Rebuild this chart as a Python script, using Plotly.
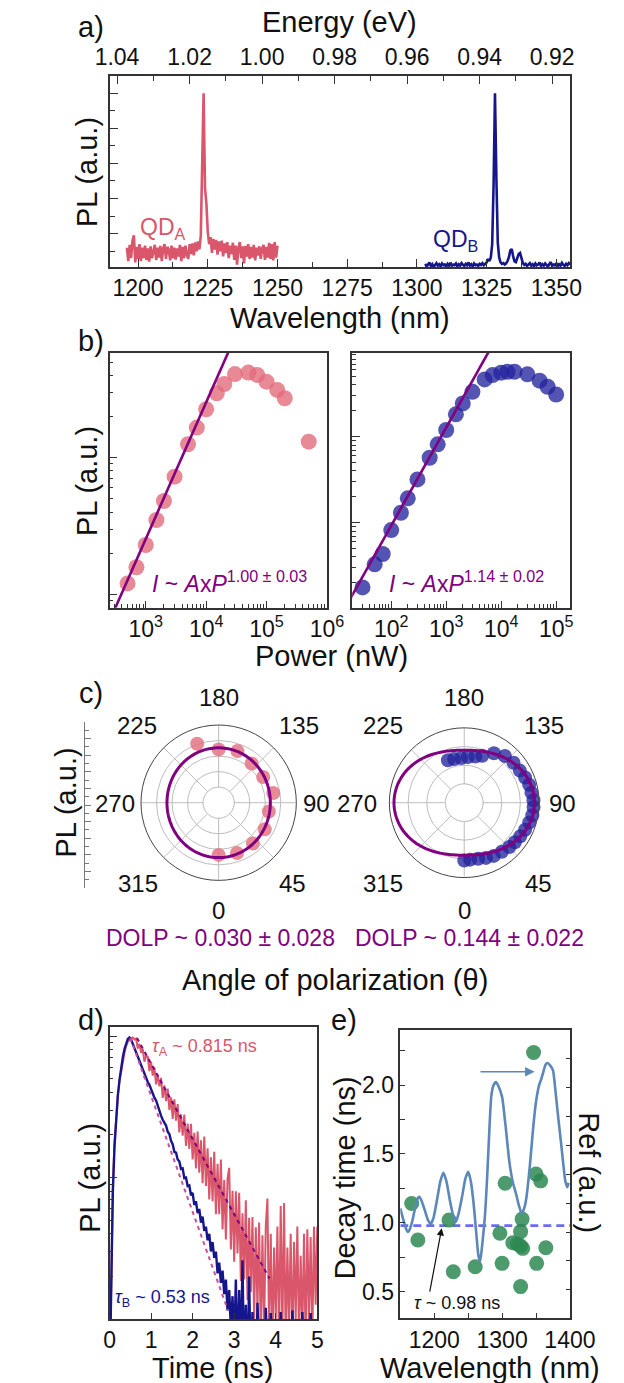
import numpy as np
import plotly.graph_objects as go

W, H = 624, 1383
FONT = "Liberation Sans, Arial, Helvetica, sans-serif"


def px(x):
    return x / W


def py(y):
    return 1 - y / H


RED = "#d9566b"
RED_DOT = "rgba(226,108,124,0.80)"
NAVY = "#16168c"
NAVY_DOT = "rgba(36,36,158,0.78)"
PURPLE = "#800080"
GREEN_DOT = "rgba(46,136,82,0.85)"
STEEL = "#5b87b9"
DASHBLUE = "#6b6bf2"
AXC = "#333333"
GRID = "#bdbdbd"

# ---------------- (a) PL spectra ----------------
HC = 1239.84  # eV*nm
wl_lim = [1190.0, 1355.0]
spec_a_start, spec_a_step = 1196.0, 0.5
spec_a = [0.60, 0.22, 0.68, 0.30, 0.80, 0.95, 0.18, 0.62, 0.28, 0.70, 0.22, 0.60,
          0.30, 0.66, 0.25, 0.58, 0.20, 0.64, 0.30, 0.55, 0.68, 0.25, 0.60, 0.32,
          0.65, 0.22, 0.58, 0.70, 0.28, 0.62, 0.55, 0.24, 0.66, 0.30, 0.60, 0.26,
          0.58, 0.35, 0.68, 0.22, 0.62, 0.30, 0.66, 0.40, 0.28, 0.70, 0.42, 0.72,
          0.38, 0.75, 0.50, 0.78, 0.55, 0.95, 2.60, 5.00, 2.30, 1.86, 1.05, 0.70,
          0.90, 0.45, 0.85, 0.55, 0.82, 0.40, 0.78, 0.50, 0.80, 0.35, 0.72, 0.45,
          0.76, 0.30, 0.66, 0.42, 0.74, 0.25, 0.66, 0.12, 0.60, 0.76, 0.30, 0.64,
          0.15, 0.65, 0.35, 0.70, 0.28, 0.62, 0.32, 0.68, 0.24, 0.60, 0.38, 0.64,
          0.28, 0.58, 0.68, 0.25, 0.62, 0.32, 0.74, 0.28, 0.70, 0.24, 0.76, 0.32,
          0.66]
spec_b_start, spec_b_step = 1303.0, 0.5
spec_b = [0.14, 0.06, 0.12, 0.18, 0.08, 0.13, 0.05, 0.11, 0.16, 0.09, 0.13, 0.07,
          0.15, 0.10, 0.12, 0.06, 0.14, 0.09, 0.17, 0.08, 0.12, 0.10, 0.15, 0.07,
          0.13, 0.09, 0.16, 0.11, 0.08, 0.14, 0.10, 0.18, 0.09, 0.13, 0.07, 0.15,
          0.10, 0.12, 0.08, 0.14, 0.11, 0.16, 0.10, 0.14, 0.18, 0.28, 0.22, 0.32,
          0.70, 2.40, 5.00, 2.60, 0.75, 0.32, 0.18, 0.14, 0.16, 0.12, 0.15, 0.22,
          0.33, 0.52, 0.56, 0.36, 0.21, 0.19, 0.28, 0.42, 0.45, 0.27, 0.16, 0.11,
          0.14, 0.08, 0.12, 0.16, 0.09, 0.13, 0.07, 0.15, 0.10, 0.12, 0.18, 0.08,
          0.13, 0.09, 0.15, 0.11, 0.06, 0.14, 0.19, 0.08, 0.12, 0.10, 0.16, 0.07,
          0.13, 0.09, 0.17, 0.11, 0.08, 0.14, 0.10, 0.16, 0.12]
wl_ticks = [1200, 1225, 1250, 1275, 1300, 1325, 1350]
ev_ticks = [1.04, 1.02, 1.00, 0.98, 0.96, 0.94, 0.92]

# ---------------- (b) power dependence ----------------
power_a = [500, 700, 1000, 1500, 2000, 3000, 5000, 7000, 10000, 15000, 20000,
           30000, 50000, 70000, 100000, 150000, 200000, 500000]
pl_a = [1202, 1578, 2296, 3499, 4820, 7260, 12530, 16600, 22600, 29600, 34600,
        40900, 41900, 40300, 36000, 31300, 27200, 13100]
power_b = [30, 50, 70, 100, 150, 200, 300, 500, 700, 1000, 1500, 2000, 3000,
           5000, 7000, 10000, 13000, 17500, 30000, 50000, 70000, 100000]
pl_b = [177, 328, 433, 822, 1306, 1920, 3190, 5700, 8150, 11970, 18200, 24400,
        33300, 46400, 52100, 55500, 57000, 57000, 53100, 44800, 38100, 31000]
fit_a_amp, fit_a_exp = 2.54, 1.00
fit_b_amp, fit_b_exp = 4.86, 1.14

# ---------------- (c) polarization ----------------
theta_a = [0, 20, 40, 60, 80, 100, 120, 140, 160, 180, 200]
r_a = [3.36, 3.45, 3.43, 3.43, 3.28, 3.57, 3.31, 3.30, 3.54, 3.43, 4.04]
theta_b = [0, 6, 14, 21.5, 29, 37.5, 45.5, 52, 59, 66, 73, 79.5, 86.5, 92, 98.5,
           105.5, 112.5, 120, 129, 139, 149, 159, 166.5, 175.5, 184, 193, 201]
r_b = [3.09, 3.06, 3.09, 3.17, 3.25, 3.30, 3.38, 3.43, 3.49, 3.56, 3.63, 3.70,
       3.71, 3.70, 3.63, 3.60, 3.52, 3.43, 3.39, 3.31, 3.08, 2.68, 2.54, 2.44,
       2.39, 2.40, 2.43]
dolp_a, i0_a, phi_a = 0.030, 3.43, 0.0
dolp_b, i0_b, phi_b = 0.144, 3.28, 90.0
angle_ticks = [0, 45, 90, 135, 180, 225, 270, 315]

# ---------------- (d) time-resolved PL ----------------
t_step = 0.04
decay_a = [0.32, 2.5, 8.9, 17.8, 28, 38, 48, 57.5, 67.6, 75.9, 85, 91, 94, 96.6, 97.7, 95,
           96, 81.7, 88, 76, 81, 66, 72, 71.5, 56.6, 65.6, 52.5, 60, 45.5, 53.2, 44.2, 50.6,
           36.5, 44.8, 34.7, 42.5, 30, 36.8, 26, 35.7, 25.2, 33.1, 20.8, 28, 19.8, 27.9, 16.7, 24.1,
           15.9, 24, 13.4, 20.7, 11.6, 21.1, 10.8, 18.3, 9.1, 19.5, 8.7, 16.1, 7.0, 13.9, 6.8, 15.2,
           5.5, 12.5, 5.5, 13.4, 4.3, 9.6, 3.65, 9.8, 11.7, 3.1, 8.05, 2.54, 8.0, 2.9, 7.8, 1.86,
           5.6, 1.9, 6.9, 1.36, 5.2, 1.55, 5.25, 1.0, 4.45, 1.14, 4.8, 0.73, 3.9, 0.83, 4.5, 7.1,
           0.79, 4.0, 0.63, 3.2, 1.0, 4.5, 0.71, 6.3, 0.79, 6.6, 0.63, 3.2, 0.89, 4.0, 0.63, 3.5,
           1.0, 4.5, 0.71, 2.8, 0.79, 4.0, 0.63, 4.3, 1.0, 3.8, 0.71, 4.5, 1.26, 4.5]
decay_b = [0.32, 2.0, 7.9, 16.6, 27.5, 38, 49, 60, 70.8, 81, 89, 95.5, 97.7, 94.4, 88, 82,
           76.7, 70.8, 66.8, 61.7, 58.9, 53.7, 51.3, 47.3, 45.2, 41.7, 39.8, 36.7, 35.1, 32.4, 28.8, 27.4,
           25.6, 24.3, 23.3, 21.1, 20.3, 18.2, 17.2, 15.2, 15.0, 13.4, 13.0, 11.5, 11.6, 9.9, 10.0, 8.7,
           8.8, 7.5, 7.8, 6.4, 6.8, 5.6, 6.0, 4.8, 5.3, 4.2, 4.5, 3.6, 4.0, 3.0, 3.5, 2.7,
           3.0, 2.1, 2.5, 1.8, 2.2, 1.5, 1.9, 1.15, 1.6, 0.85, 1.45, 0.63, 1.9, 0.5, 1.6, 0.5,
           2.6, 0.4, 1.26, 0.4, 2.0, 0.4, 1.12, 0.32, 0.32, 1.3, 0.32, 0.32, 0.32, 0.32, 1.2, 0.32,
           0.32, 1.1, 0.32, 0.32, 0.32, 0.32, 0.32, 1.12, 0.32, 0.32, 0.32, 0.32, 0.32, 0.32, 1.15, 0.32,
           0.32, 0.32, 0.32, 0.32, 1.12, 0.32, 0.32, 0.32, 0.32, 1.1, 0.32, 0.32, 0.32, 0.32]
tau_a, fit_a_t = 0.815, [0.66, 3.85]
tau_b, fit_b_t = 0.53, [0.50, 2.85]
fit_a_peak, fit_b_peak = 97.0, 97.0

# ---------------- (e) decay time vs wavelength ----------------
ref_wl = [1150, 1153, 1156, 1159, 1161.5, 1164, 1168, 1172, 1176, 1178, 1181, 1186,
          1191, 1195, 1199, 1204, 1209, 1213.5, 1218, 1223, 1228, 1232, 1236, 1241,
          1246, 1250, 1254, 1258, 1262, 1265, 1267.5, 1270, 1273, 1275, 1278, 1281,
          1284, 1287, 1291, 1295, 1300, 1305, 1311, 1316, 1320.5, 1325, 1329, 1333,
          1336, 1341, 1345.5, 1350, 1354.5, 1358, 1361, 1364, 1367, 1371, 1375, 1379,
          1383, 1386.5, 1390, 1393, 1396, 1398]
ref_val = [3.82, 3.55, 3.30, 3.08, 3.00, 3.10, 3.41, 3.85, 4.18, 4.22, 4.10, 3.76,
           3.40, 3.28, 3.50, 4.10, 4.75, 5.05, 4.75, 4.10, 3.55, 3.36, 3.65, 4.22,
           4.85, 5.08, 4.75, 3.99, 2.95, 2.20, 1.98, 2.40, 3.10, 3.64, 4.90, 6.40,
           7.67, 8.05, 8.18, 8.02, 7.67, 6.70, 5.37, 4.70, 4.33, 3.90, 3.64, 3.85,
           4.22, 5.30, 6.52, 7.50, 8.07, 8.30, 8.55, 8.78, 8.84, 8.75, 8.59, 7.80,
           6.90, 6.17, 5.40, 4.79, 4.55, 4.70]
qd_wl = [1166.8, 1175.9, 1221.8, 1228.1, 1260.4, 1296.8, 1300.0, 1304.5, 1315.8,
         1322.6, 1327.3, 1327.3, 1329.5, 1330.4, 1327.3, 1346.4, 1350.0, 1350.9,
         1356.8, 1364.5]
qd_tau = [1.14, 0.875, 1.02, 0.645, 0.681, 0.924, 0.706, 1.287, 0.856,
          0.846, 0.936, 0.832, 1.027, 0.815, 0.537, 2.237, 1.354, 0.706,
          1.305, 0.819]
tau_mean = 0.98
wl_lim_e = [1150, 1400.5]

fig = go.Figure()

# ---- (a) spectra
wl_a = spec_a_start + spec_a_step * np.arange(len(spec_a))
wl_b = spec_b_start + spec_b_step * np.arange(len(spec_b))
fig.add_trace(go.Scatter(x=wl_a, y=spec_a, mode="lines", line=dict(color=RED, width=2.6),
                         xaxis="x", yaxis="y"))
fig.add_trace(go.Scatter(x=wl_b, y=spec_b, mode="lines", line=dict(color=NAVY, width=2.6),
                         xaxis="x", yaxis="y"))
# carrier for the energy axis on top
fig.add_trace(go.Scatter(x=[ev_ticks[0], ev_ticks[-1]], y=[-5, -5], mode="lines",
                         line=dict(width=0), xaxis="x2", yaxis="y", hoverinfo="skip"))

# ---- (b) power series
fig.add_trace(go.Scatter(x=power_a, y=pl_a, mode="markers",
                         marker=dict(size=16, color=RED_DOT, line=dict(width=0)),
                         xaxis="x3", yaxis="y3"))
pa = np.logspace(2.3, 4.6, 50)
fig.add_trace(go.Scatter(x=pa, y=fit_a_amp * pa ** fit_a_exp, mode="lines",
                         line=dict(color=PURPLE, width=2.6), xaxis="x3", yaxis="y3"))
fig.add_trace(go.Scatter(x=power_b, y=pl_b, mode="markers",
                         marker=dict(size=16, color=NAVY_DOT, line=dict(width=0)),
                         xaxis="x4", yaxis="y4"))
pb = np.logspace(1.2, 4.1, 50)
fig.add_trace(go.Scatter(x=pb, y=fit_b_amp * pb ** fit_b_exp, mode="lines",
                         line=dict(color=PURPLE, width=2.6), xaxis="x4", yaxis="y4"))

# ---- (c) polar plots
ring = np.arange(0, 361, 3)
th_fit = np.arange(0, 361, 2)
for sub, th, rr, col, i0, dp, phi in (
        ("polar", theta_a, r_a, RED_DOT, i0_a, dolp_a, phi_a),
        ("polar2", theta_b, r_b, NAVY_DOT, i0_b, dolp_b, phi_b)):
    # blank centre disc inside the first grid ring
    fig.add_trace(go.Scatterpolar(r=np.ones_like(ring), theta=ring, mode="lines", fill="toself",
                                  fillcolor="white", line=dict(color=GRID, width=1),
                                  subplot=sub, hoverinfo="skip"))
    fig.add_trace(go.Scatterpolar(r=rr, theta=th, mode="markers",
                                  marker=dict(size=14, color=col, line=dict(width=0)),
                                  subplot=sub))
    r_fit = i0 * (1 + dp * np.cos(np.radians(2 * (th_fit - phi))))
    fig.add_trace(go.Scatterpolar(r=r_fit, theta=th_fit, mode="lines",
                                  line=dict(color=PURPLE, width=3), subplot=sub))

# carrier for the stand-alone PL scale in (c)
fig.add_trace(go.Scatter(x=[0], y=[-5], mode="lines", xaxis="x5", yaxis="y5", hoverinfo="skip"))

# ---- (d) decay traces
t_a = t_step * np.arange(len(decay_a))
t_b = t_step * np.arange(len(decay_b))
fig.add_trace(go.Scatter(x=t_a, y=decay_a, mode="lines", line=dict(color=RED, width=2),
                         xaxis="x6", yaxis="y6"))
fig.add_trace(go.Scatter(x=t_b, y=decay_b, mode="lines", line=dict(color=NAVY, width=2.4),
                         xaxis="x6", yaxis="y6"))
ta_fit = np.linspace(fit_a_t[0], fit_a_t[1], 40)
tb_fit = np.linspace(fit_b_t[0], fit_b_t[1], 40)
fig.add_trace(go.Scatter(x=ta_fit, y=fit_a_peak * np.exp(-(ta_fit - fit_a_t[0]) / tau_a),
                         mode="lines", line=dict(color=PURPLE, width=2, dash="4px,4px"),
                         xaxis="x6", yaxis="y6"))
fig.add_trace(go.Scatter(x=tb_fit, y=fit_b_peak * np.exp(-(tb_fit - fit_b_t[0]) / tau_b),
                         mode="lines", line=dict(color="#c8509a", width=2, dash="4px,4px"),
                         xaxis="x6", yaxis="y6"))

# ---- (e) decay time and reflectance
fig.add_trace(go.Scatter(x=ref_wl, y=ref_val, mode="lines", line=dict(color=STEEL, width=2.6,
                         shape="spline", smoothing=0.6), xaxis="x7", yaxis="y8"))
fig.add_trace(go.Scatter(x=wl_lim_e, y=[tau_mean, tau_mean], mode="lines",
                         line=dict(color=DASHBLUE, width=2.6, dash="8px,5px"),
                         xaxis="x7", yaxis="y7"))
fig.add_trace(go.Scatter(x=qd_wl, y=qd_tau, mode="markers",
                         marker=dict(size=15, color=GREEN_DOT, line=dict(width=0)),
                         xaxis="x7", yaxis="y7"))

tick_font = dict(family=FONT, size=23, color="#111")
base_ax = dict(showline=True, linecolor=AXC, linewidth=1.5, ticks="inside", tickcolor=AXC,
               tickwidth=1.2, showgrid=False, zeroline=False, tickfont=tick_font, fixedrange=True)


def ax(**kw):
    d = dict(base_ax)
    d.update(kw)
    return d


def decade_minors(lo, hi):
    return [m * 10 ** e for e in range(lo, hi) for m in range(2, 10)]


def sup10(v):
    return [f"10<sup>{int(np.log10(x))}</sup>" for x in v]


layout = dict(
    width=W, height=H, margin=dict(l=0, r=0, t=0, b=0), showlegend=False,
    paper_bgcolor="white", plot_bgcolor="white", font=dict(family=FONT, color="#111"),
    # (a)
    xaxis=ax(domain=[px(101.7), px(593.3)], range=wl_lim, anchor="y", tickvals=wl_ticks,
             ticklen=8, minor=dict(tickvals=[t + 12.5 for t in wl_ticks[:-1]],
                                   ticks="inside", ticklen=5, tickcolor=AXC)),
    xaxis2=ax(overlaying="x", side="top", anchor="y", range=[HC / wl_lim[0], HC / wl_lim[1]],
              tickvals=ev_ticks, ticktext=[f"{v:.2f}" for v in ev_ticks], ticklen=8,
              minor=dict(tickvals=[0.93, 0.95, 0.97, 0.99, 1.01, 1.03], ticks="inside",
                         ticklen=5, tickcolor=AXC)),
    yaxis=ax(domain=[py(267), py(76)], range=[0.05, 5.49], anchor="x", tickvals=[1, 2, 3, 4, 5],
             showticklabels=False, ticklen=8, mirror=True,
             minor=dict(tickvals=[0.5, 1.5, 2.5, 3.5, 4.5], ticks="inside", ticklen=5,
                        tickcolor=AXC)),
    # (b)
    xaxis3=ax(type="log", domain=[px(101.2), px(333.3)], range=[2.403, 6.0], anchor="y3",
              tickvals=[1e3, 1e4, 1e5, 1e6], ticktext=sup10([1e3, 1e4, 1e5, 1e6]), ticklen=7,
              mirror=True, minor=dict(tickvals=decade_minors(2, 6), ticks="inside", ticklen=4,
                                      tickcolor=AXC)),
    yaxis3=ax(type="log", domain=[py(607.7), py(352.7)], range=[2.902, 4.768], anchor="x3",
              tickvals=[1e3, 1e4], showticklabels=False, ticklen=8, mirror=True,
              minor=dict(tickvals=decade_minors(2, 5), ticks="inside", ticklen=4, tickcolor=AXC)),
    xaxis4=ax(type="log", domain=[px(360.3), px(593.3)], range=[1.29, 5.257], anchor="y4",
              tickvals=[1e2, 1e3, 1e4, 1e5], ticktext=sup10([1e2, 1e3, 1e4, 1e5]), ticklen=7,
              mirror=True, minor=dict(tickvals=decade_minors(1, 5), ticks="inside", ticklen=4,
                                      tickcolor=AXC)),
    yaxis4=ax(type="log", domain=[py(607.7), py(352.7)], range=[2.012, 4.977], anchor="x4",
              tickvals=[1e3, 1e4], showticklabels=False, ticklen=8, mirror=True,
              minor=dict(tickvals=decade_minors(2, 5), ticks="inside", ticklen=4, tickcolor=AXC)),
    # (c) stand-alone PL scale
    xaxis5=dict(domain=[px(75), px(95)], range=[0, 1], visible=False, fixedrange=True),
    yaxis5=ax(domain=[py(888.3), py(721.7)], range=[0, 20], anchor="x5",
              tickvals=list(range(0, 21, 2)), showticklabels=False, ticklen=6,
              linecolor="#777", tickcolor="#777", linewidth=1.2,
              minor=dict(tickvals=list(range(1, 20, 2)), ticks="inside", ticklen=3.5,
                         tickcolor="#777")),
    # (d)
    xaxis6=ax(domain=[px(101), px(323)], range=[0, 5], anchor="y6", tickvals=[0, 1, 2, 3, 4, 5],
              ticklen=6, mirror=True),
    yaxis6=ax(type="log", domain=[py(1319), py(1027)], range=[0, 2.064], anchor="x6",
              tickvals=[1, 10, 100], showticklabels=False, ticklen=8, mirror=True,
              minor=dict(tickvals=decade_minors(0, 3), ticks="inside", ticklen=4, tickcolor=AXC)),
    # (e)
    xaxis7=ax(domain=[px(411.7), px(593.3)], range=wl_lim_e, anchor="y7",
              tickvals=[1200, 1300, 1400], ticklen=6, mirror=True,
              minor=dict(tickvals=[1250, 1350], ticks="inside", ticklen=6, tickcolor=AXC)),
    yaxis7=ax(domain=[py(1318.3), py(1030)], range=[0.307, 2.40], anchor="x7",
              tickvals=[0.5, 1.0, 1.5, 2.0], ticktext=["0.5", "1.0", "1.5", "2.0"], ticklen=5,
              minor=dict(tickvals=[0.75, 1.25, 1.75, 2.25], ticks="inside", ticklen=5,
                         tickcolor=AXC)),
    yaxis8=ax(overlaying="y7", side="right", anchor="x7", range=[0.02, 9.98],
              tickvals=list(range(1, 10)), showticklabels=False, ticklen=5),
)

polar_common = dict(
    bgcolor="white",
    angularaxis=dict(rotation=-90, direction="counterclockwise", tickmode="array",
                     tickvals=angle_ticks, showticklabels=False, showline=True,
                     linecolor="#444", linewidth=1, gridcolor=GRID, gridwidth=1, ticks=""),
)
layout["polar"] = dict(domain=dict(x=[px(134.6), px(300.6)], y=[py(885.7), py(719.7)]),
                       radialaxis=dict(range=[0, 5], dtick=1, showticklabels=False, ticks="",
                                       showline=False, gridcolor=GRID), **polar_common)
layout["polar2"] = dict(domain=dict(x=[px(400), px(560)], y=[py(882.7), py(722.7)]),
                        radialaxis=dict(range=[0, 4], dtick=1, showticklabels=False, ticks="",
                                        showline=False, gridcolor=GRID), **polar_common)

fig.update_layout(**layout)


def label(text, x, y, size=29, color="#111", angle=0, xanchor="center", yanchor="middle"):
    fig.add_annotation(text=text, x=px(x), y=py(y), xref="paper", yref="paper",
                       showarrow=False, textangle=angle, xanchor=xanchor, yanchor=yanchor,
                       font=dict(family=FONT, size=size, color=color))


# angle labels around each polar plot
angle_label_pos = {
    "left": {0: (217.5, 910), 45: (297, 883), 90: (322, 803), 135: (303.6, 725),
             180: (217.5, 697), 225: (130.6, 725), 270: (107, 803), 315: (131, 883)},
    "right": {0: (480, 910), 45: (559.5, 883), 90: (585, 803), 135: (565.5, 725),
              180: (480, 697), 225: (393, 725), 270: (365, 803), 315: (393.7, 883)},
}
for side in ("left", "right"):
    for a in angle_ticks:
        xx, yy = angle_label_pos[side][a]
        label(str(a), xx, yy, size=24)

# panel letters
for txt, x, y in (("a)", 81, 27), ("b)", 81, 341), ("c)", 81, 693), ("d)", 81, 1020),
                  ("e)", 352, 1020)):
    label(txt, x, y)

# axis titles
label("Energy (eV)", 347, 22)
label("Wavelength (nm)", 347, 318)
label("PL (a.u.)", 77, 172, angle=-90)
label("PL (a.u.)", 77, 481, angle=-90)
label("Power (nW)", 338, 656)
label("PL (a.u.)", 54, 803, angle=-90)
label("Angle of polarization (θ)", 342, 980)
label("PL (a.u.)", 80, 1178, angle=-90)
label("Time (ns)", 211, 1368)
label("Decay time (ns)", 353, 1178, angle=-90)
label("Ref (a.u.)", 613, 1173, angle=90)
label("Wavelength (nm)", 507, 1368)

# in-plot texts
label("QD<sub>A</sub>", 131, 229, size=23, color=RED, xanchor="left")
label("QD<sub>B</sub>", 444, 240, size=23, color=NAVY, xanchor="left")
label("<i>I</i> ~ <i>A</i>x<i>P</i><sup>1.00 ± 0.03</sup>", 144, 582, size=23, color=PURPLE,
      xanchor="left")
label("<i>I</i> ~ <i>A</i>x<i>P</i><sup>1.14 ± 0.02</sup>", 398, 582, size=23, color=PURPLE,
      xanchor="left")
label(f"DOLP ~ {dolp_a:.3f} ± 0.028", 220, 938, size=23, color=PURPLE)
label(f"DOLP ~ {dolp_b:.3f} ± 0.022", 486, 938, size=23, color=PURPLE)
label(f"<i>τ</i><sub>A</sub> ~ {tau_a} ns", 203, 1047, size=18, color=RED)
label(f"<i>τ</i><sub>B</sub> ~ {tau_b} ns", 158, 1298, size=18, color=NAVY)
label(f"<i>τ</i> ~ {tau_mean} ns", 472, 1303, size=18)

# arrows in (e)
fig.add_annotation(x=1348, y=2.097, ax=1266, ay=2.097, xref="x7", yref="y7", axref="x7",
                   ayref="y7", text="", showarrow=True, arrowhead=2, arrowsize=1.2,
                   arrowwidth=1.6, arrowcolor=STEEL)
fig.add_annotation(x=1211, y=tau_mean - 0.02, ax=1193, ay=0.49, xref="x7", yref="y7",
                   axref="x7", ayref="y7", text="", showarrow=True, arrowhead=2,
                   arrowsize=1.2, arrowwidth=1.2, arrowcolor="#111")

fig.write_html("out.html")
